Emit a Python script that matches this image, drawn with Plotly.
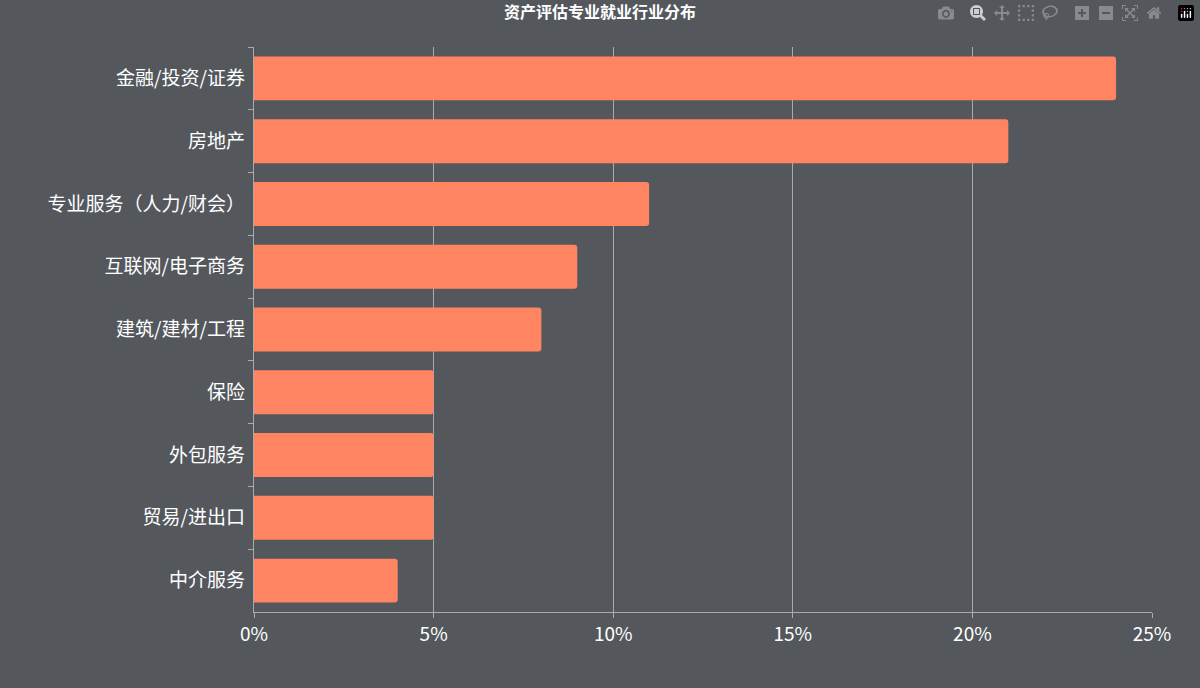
import plotly.graph_objects as go

categories = ["金融/投资/证券", "房地产", "专业服务（人力/财会）", "互联网/电子商务", "建筑/建材/工程",
              "保险", "外包服务", "贸易/进出口", "中介服务"]
values = [24, 21, 11, 9, 8, 5, 5, 5, 4]
x_ticks = [0, 5, 10, 15, 20, 25]
x_tick_labels = ["0%", "5%", "10%", "15%", "20%", "25%"]

fig = go.Figure(go.Bar(
    y=categories, x=values, orientation="h",
    marker=dict(color="#ff8562", cornerradius=3, line=dict(width=0)),
    width=0.7,
))
fig.update_layout(
    width=1200, height=688,
    paper_bgcolor="#54585d", plot_bgcolor="#54585d",
    font=dict(family="Noto Sans CJK SC", color="white", size=19),
    title=dict(text="<b>资产评估专业就业行业分布</b>", x=0.5, y=0.99, yanchor="top",
               font=dict(size=16, color="white")),
    margin=dict(l=254, r=48, t=47, b=76),
    showlegend=False,
)
fig.update_xaxes(range=[0, 25], tickvals=x_ticks, ticktext=x_tick_labels,
                 showgrid=True, gridcolor="#aaaaaa", gridwidth=1,
                 showline=True, linecolor="#aaaaaa", ticks="outside", ticklen=5,
                 tickcolor="#aaaaaa", zeroline=False, tickfont=dict(size=19))
fig.update_yaxes(autorange="reversed", showline=True, linecolor="#aaaaaa",
                 ticks="outside", ticklen=5, tickcolor="#aaaaaa",
                 tickson="boundaries", ticksuffix=" ", tickfont=dict(size=19))
fig.write_html("out.html")

with open("out.html", encoding="utf-8") as f:
    html = f.read()
html = html.replace("<head>", "<head><style>html,body{margin:0;padding:0;overflow:hidden;background:#54585d;}</style>", 1)
with open("out.html", "w", encoding="utf-8") as f:
    f.write(html)
